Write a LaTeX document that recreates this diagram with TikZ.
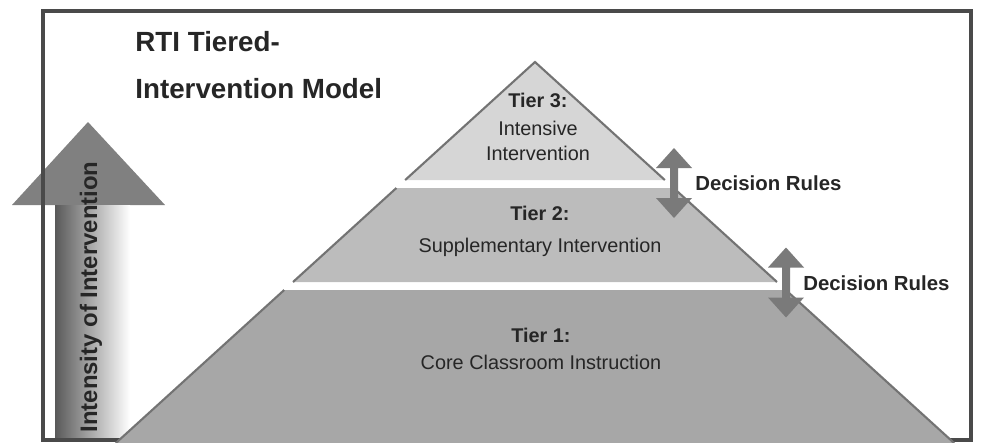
\documentclass[tikz,border=0pt]{standalone}
\usepackage{fontspec}
\setmainfont{Liberation Sans}
\usetikzlibrary{positioning}

\definecolor{tierone}{HTML}{A7A7A7}
\definecolor{tiertwo}{HTML}{BCBCBC}
\definecolor{tierthree}{HTML}{D6D6D6}
\definecolor{arrowgray}{HTML}{7A7A7A}
\definecolor{framegray}{HTML}{4A4A4A}
\definecolor{inkgray}{HTML}{262626}

\tikzset{
  tierhead/.style={font=\fontsize{11.3}{13}\selectfont\bfseries, text=inkgray, inner sep=0pt, text height=1.5ex, text depth=.25ex},
  tiertext/.style={font=\fontsize{11.3}{13}\selectfont, text=inkgray, inner sep=0pt, text height=1.5ex, text depth=.25ex},
  rules/.style={font=\fontsize{11.6}{13}\selectfont\bfseries, text=inkgray, inner sep=0pt, anchor=west},
  modeltitle/.style={font=\fontsize{15.8}{18}\selectfont\bfseries, text=inkgray, inner sep=0pt, anchor=base west},
  tieredge/.style={draw=black!55, line width=1.2pt},
  decarrow/.style={fill=arrowgray},
}

\begin{document}
\begin{tikzpicture}[x=0.02cm, y=-0.02cm]
\useasboundingbox (0,0) rectangle (981,443);

  % intensity arrow
  \fill[black!50] (12,205) -- (88,122) -- (165,205) -- cycle ; %
  \shade[left color=black!65, middle color=black!42, right color=white] (55,205) rectangle (130,440) ; %
  \node[rotate=90, font=\fontsize{13.6}{15}\selectfont\bfseries, text=inkgray, inner sep=0pt] (intensity) at (91,297) {Intensity of Intervention} ; %

  % frame
  \draw[framegray, line width=2.2pt] (43,11) rectangle (971,440) ; %

  % title
  \node[modeltitle] (title-a) at (135,51) {RTI Tiered-} ; %
  \node[modeltitle] (title-b) at (135,98) {Intervention Model} ; %

  % pyramid
  \coordinate (apex) at (535,62) ;
  \coordinate (t3-bl) at (405.2,180) ;  \coordinate (t3-br) at (664.8,180) ;
  \coordinate (t2-tl) at (396.4,188) ;  \coordinate (t2-tr) at (673.6,188) ;
  \coordinate (t2-bl) at (293,282) ;    \coordinate (t2-br) at (777,282) ;
  \coordinate (t1-tl) at (284.2,290) ;  \coordinate (t1-tr) at (785.8,290) ;
  \coordinate (t1-bl) at (115.9,443) ;  \coordinate (t1-br) at (954.1,443) ;

  \fill[tierthree] (apex) -- (t3-br) -- (t3-bl) -- cycle ; %
  \fill[tiertwo] (t2-tl) -- (t2-tr) -- (t2-br) -- (t2-bl) -- cycle ; %
  \fill[tierone] (t1-tl) -- (t1-tr) -- (t1-br) -- (t1-bl) -- cycle ; %
  \draw[tieredge] (t3-bl) -- (apex) -- (t3-br) ;
  \draw[tieredge] (t2-bl) -- (t2-tl) (t2-tr) -- (t2-br) ;
  \draw[tieredge] (t1-bl) -- (t1-tl) (t1-tr) -- (t1-br) ;

  % tier 3
  \node[tierhead] (t3) at (538,102) {Tier 3:} ; %
  \node[tiertext, below=0.22cm of t3] (t3-a) {Intensive} ; %
  \node[tiertext, below=0.16cm of t3-a] (t3-b) {Intervention} ; %

  % tier 2
  \node[tierhead] (t2) at (540,215) {Tier 2:} ; %
  \node[tiertext, below=0.3cm of t2] (t2-a) {Supplementary Intervention} ; %

  % tier 1
  \node[tierhead] (t1) at (541,337) {Tier 1:} ; %
  \node[tiertext, below=0.2cm of t1] (t1-a) {Core Classroom Instruction} ; %

  % decision rules
  \foreach \cx/\cy in {674/183, 786/282.5} {
    \fill[decarrow] (\cx,\cy) ++(0,-35) -- ++(18,20) -- ++(-14,0) -- ++(0,30)
      -- ++(14,0) -- ++(-18,20) -- ++(-18,-20) -- ++(14,0) -- ++(0,-30) -- ++(-14,0) -- cycle ;
  }
  \node[rules] (rules-a) at (695,183) {Decision Rules} ; %
  \node[rules] (rules-b) at (803,283) {Decision Rules} ; %

\end{tikzpicture}
\end{document}
